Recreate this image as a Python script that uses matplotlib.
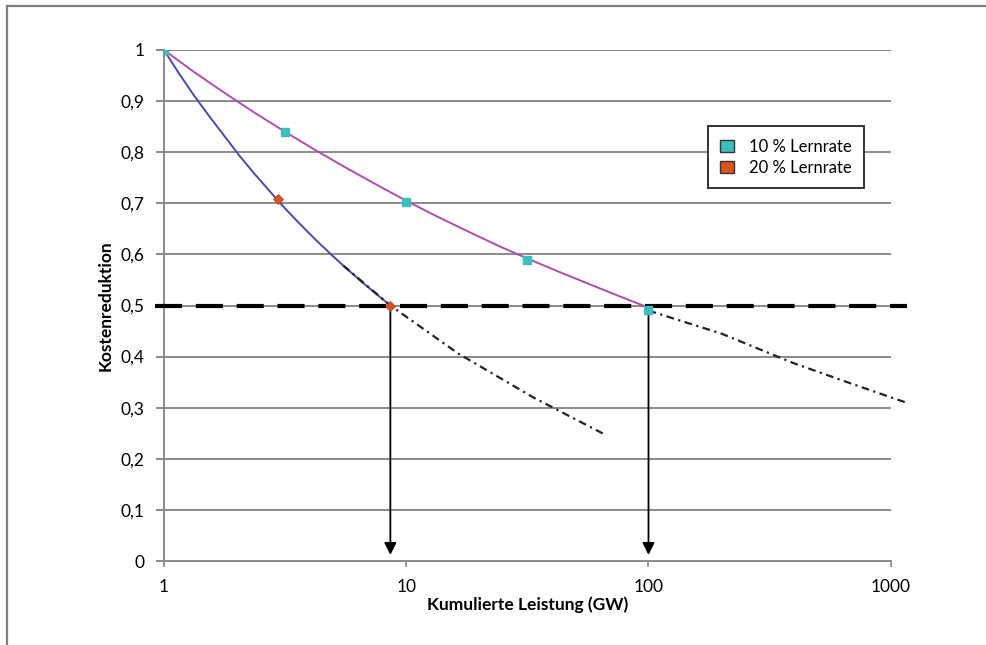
import matplotlib
matplotlib.use("Agg")
import matplotlib.pyplot as plt
from matplotlib.patches import Patch
from matplotlib.lines import Line2D
from matplotlib.ticker import FixedLocator, NullLocator

plt.rcParams['font.family'] = ['Lato', 'DejaVu Sans']

# 10 % Lernrate (purple curve, cyan markers)
x10_line = [1, 1.33, 1.78, 2.37, 3.16, 4.22, 5.62, 7.5, 10, 13.3, 17.8, 23.7,
            31.6, 42.2, 56.2, 75, 95]
y10_line = [1.0, 0.957, 0.916, 0.877, 0.840, 0.804, 0.770, 0.737, 0.705,
            0.675, 0.646, 0.618, 0.592, 0.567, 0.543, 0.519, 0.50]
x10_mark = [1, 3.16, 10, 31.6, 100]
y10_mark = [1.0, 0.84, 0.703, 0.59, 0.492]
x10_ext = [100, 200, 398, 708, 1175]
y10_ext = [0.49, 0.445, 0.387, 0.345, 0.309]

# 20 % Lernrate (blue curve, orange markers)
x20_line = [1, 1.15, 1.33, 1.54, 1.78, 2.05, 2.37, 2.74, 3.16, 3.65, 4.22,
            4.87, 5.62, 6.49, 7.5, 8.6]
y20_line = [1.0, 0.955, 0.911, 0.870, 0.831, 0.793, 0.757, 0.723, 0.690,
            0.659, 0.629, 0.601, 0.574, 0.548, 0.523, 0.50]
x20_mark = [1, 2.95, 8.6]
y20_mark = [1.0, 0.708, 0.50]
x20_ext = [5.5, 8.6, 16.4, 33.5, 67]
y20_ext = [0.578, 0.50, 0.406, 0.32, 0.246]

target = 0.5
arrow_x = [8.6, 100]

xticks = [1, 10, 100, 1000]
xlabels = ['1', '10', '100', '1000']
yticks = [0, 0.1, 0.2, 0.3, 0.4, 0.5, 0.6, 0.7, 0.8, 0.9, 1.0]
ylabels = ['0', '0,1', '0,2', '0,3', '0,4', '0,5', '0,6', '0,7', '0,8', '0,9', '1']

cyan = '#3DBDBD'
orange = '#D9541E'
purple = '#B04CAE'
blue = '#4A4AA6'
grid_c = '#8A8A8A'

fig = plt.figure(figsize=(9.86, 6.45), dpi=100)
ax = fig.add_axes([0.1663, 0.1302, 0.7371, 0.7923])

ax.set_xscale('log')
ax.set_xlim(1, 1000)
ax.set_ylim(0, 1)
ax.xaxis.set_major_locator(FixedLocator(xticks))
ax.xaxis.set_minor_locator(NullLocator())
ax.set_xticklabels(xlabels)
ax.set_yticks(yticks)
ax.set_yticklabels(ylabels)

for y in yticks[1:]:
    ax.axhline(y, color=grid_c, lw=1.4, zorder=1)

for s in ['top', 'right']:
    ax.spines[s].set_visible(False)
for s in ['left', 'bottom']:
    ax.spines[s].set_color(grid_c)
    ax.spines[s].set_linewidth(1.4)
ax.tick_params(axis='y', length=6, width=1.4, color=grid_c, pad=8, labelsize=12.5)
ax.tick_params(axis='x', length=4, width=1.2, color=grid_c, pad=9, labelsize=12.5)

# curves
dashdot = (0, (3.5, 2, 1, 2))
ax.plot(x10_line, y10_line, color=purple, lw=1.4, zorder=3)
ax.plot(x20_line, y20_line, color=blue, lw=1.4, zorder=3)
ax.plot(x10_ext, y10_ext, color='#222222', lw=1.6, ls=dashdot,
        zorder=3, clip_on=False)
ax.plot(x20_ext, y20_ext, color='#222222', lw=1.6, ls=dashdot,
        zorder=3, clip_on=False)

# 50 % line
ax.plot([0.92, 1165], [target, target], color='black', lw=3.0,
        ls=(0, (6.5, 3.3)), zorder=4, clip_on=False)

# arrows
for xa in arrow_x:
    ax.annotate('', xy=(xa, 0.012), xytext=(xa, target),
                arrowprops=dict(arrowstyle='-|>', color='black', lw=1.3,
                                mutation_scale=18, shrinkA=0, shrinkB=0),
                zorder=5)

# markers
ax.plot(x20_mark, y20_mark, ls='none', marker='D', ms=5, color=orange,
        mec='#B04A1E', mew=0.6, zorder=6)
ax.plot(x10_mark, y10_mark, ls='none', marker='s', ms=6.3, color=cyan,
        mec=cyan, zorder=6)

ax.set_xlabel('Kumulierte Leistung (GW)', fontsize=12.5, fontweight='bold', labelpad=1)
ax.set_ylabel('Kostenreduktion', fontsize=12.5, fontweight='bold', labelpad=5)

handles = [Patch(facecolor=cyan, edgecolor='#333333', lw=1.0),
           Patch(facecolor=orange, edgecolor='#333333', lw=1.0)]
leg = ax.legend(handles, ['10 % Lernrate', '20 % Lernrate'],
                loc='upper left', bbox_to_anchor=(0.737, 0.867),
                fancybox=False, framealpha=1, edgecolor='#333333',
                fontsize=12, handlelength=0.8, handleheight=0.8,
                handletextpad=0.9, borderpad=0.75, labelspacing=0.3)
leg.get_frame().set_linewidth(1.4)
leg.set_zorder(10)

# image frame (top and left edges)
fig.add_artist(Line2D([7 / 986, 1], [1 - 6 / 645, 1 - 6 / 645],
                      color='#7F7F7F', lw=1.6, transform=fig.transFigure))
fig.add_artist(Line2D([7 / 986, 7 / 986], [0, 1 - 6 / 645],
                      color='#7F7F7F', lw=1.6, transform=fig.transFigure))

fig.savefig('out.png', dpi=100)
